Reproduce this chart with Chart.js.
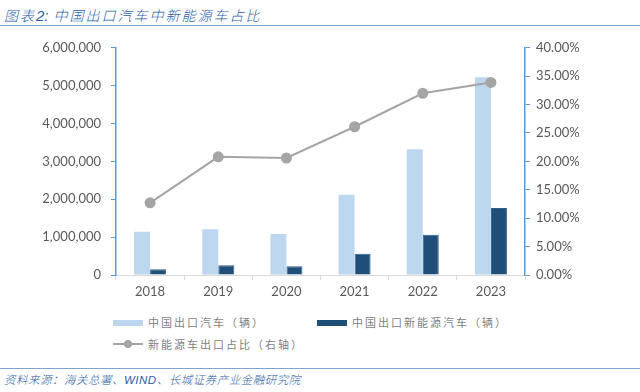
<!DOCTYPE html>
<html>
<head>
<meta charset="utf-8">
<script src="https://cdn.jsdelivr.net/npm/chart.js@4"></script>
<style>
  html, body { margin: 0; padding: 0; background: #fff; }
  body { width: 640px; height: 392px; position: relative; overflow: hidden;
         font-family: 'Noto Sans CJK SC', sans-serif; }
  .title { position: absolute; left: 4px; top: 5px; font-size: 14px; color: #2b5ea8;
           font-style: italic; letter-spacing: 2px; font-weight: 300; }
  .title b { font-family: 'Liberation Sans', sans-serif; letter-spacing: 0; font-size: 15px; }
  .rule-top { position: absolute; left: 0; top: 25px; width: 640px; height: 1px; background: #7ea4d6; }
  .rule-bot { position: absolute; left: 0; top: 368px; width: 640px; height: 1px; background: #7ea4d6; }
  .source { position: absolute; left: 4px; top: 371px; font-size: 11.5px; color: #2b5ea8;
            font-style: italic; letter-spacing: 0.5px; font-weight: 300; }
  .source b { font-family: 'Liberation Sans', sans-serif; }
  #wrap { position: absolute; left: 0; top: 30px; width: 640px; height: 280px; }
  .legend { position: absolute; font-size: 11px; color: #7f7f7f; letter-spacing: 2px; }
  .swatch { position: absolute; width: 30px; height: 6px; }
</style>
</head>
<body>
<div class="title">图表<b>2:</b> 中国出口汽车中新能源车占比</div>
<div class="rule-top"></div>

<div id="wrap"><canvas id="chart"></canvas></div>

<div class="swatch" style="left:113px; top:320px; background:#bdd7ee;"></div>
<div class="legend" style="left:148px; top:314px;">中国出口汽车（辆）</div>
<div class="swatch" style="left:317px; top:320px; background:#1f4e79;"></div>
<div class="legend" style="left:352px; top:314px;">中国出口新能源汽车（辆）</div>
<svg style="position:absolute; left:113px; top:338px;" width="32" height="12">
  <line x1="0" y1="6" x2="30" y2="6" stroke="#a5a5a5" stroke-width="2"/>
  <circle cx="15" cy="6" r="4" fill="#a5a5a5"/>
</svg>
<div class="legend" style="left:148px; top:336px;">新能源车出口占比（右轴）</div>

<div class="rule-bot"></div>
<div class="source">资料来源：海关总署、<b>WIND</b>、长城证券产业金融研究院</div>

<script>
const years = ['2018', '2019', '2020', '2021', '2022', '2023'];
const carExports = [1140000, 1210000, 1080000, 2120000, 3320000, 5220000];
const nevExports = [150000, 260000, 230000, 560000, 1060000, 1770000];
const nevShare = [12.7, 20.8, 20.6, 26.1, 32.0, 33.9];

const tickFont = { family: "'Lato', 'Liberation Sans', sans-serif", size: 13 };
const tickColor = '#595959';
const axisBlue = '#5b9bd5';

new Chart(document.getElementById('chart'), {
    type: 'bar',
    data: {
        labels: years,
        datasets: [
            {
                type: 'line',
                label: '新能源车出口占比（右轴）',
                data: nevShare,
                yAxisID: 'y1',
                borderColor: '#a5a5a5',
                backgroundColor: '#a5a5a5',
                borderWidth: 2,
                pointRadius: 4.5,
                pointBackgroundColor: '#a5a5a5',
                pointBorderColor: '#a5a5a5',
                tension: 0,
                order: 0
            },
            {
                label: '中国出口汽车（辆）',
                data: carExports,
                yAxisID: 'y',
                backgroundColor: '#bdd7ee',
                categoryPercentage: 0.47,
                barPercentage: 1.0,
                order: 1
            },
            {
                label: '中国出口新能源汽车（辆）',
                data: nevExports,
                yAxisID: 'y',
                backgroundColor: '#1f4e79',
                borderColor: '#2e5d8a',
                borderWidth: 1,
                categoryPercentage: 0.47,
                barPercentage: 1.0,
                order: 1
            }
        ]
    },
    options: {
        responsive: true,
        maintainAspectRatio: false,
        animation: false,
        layout: { padding: { top: 17, left: 0, right: 0, bottom: 0 } },
        plugins: {
            legend: { display: false },
            tooltip: { enabled: false }
        },
        scales: {
            x: {
                grid: { drawOnChartArea: false, drawTicks: true, tickLength: 5, color: '#d9d9d9', offset: true },
                border: { color: '#d9d9d9', width: 1 },
                ticks: { font: tickFont, color: tickColor, padding: 4 },
                afterFit: function(scale) { scale.height = 35; }
            },
            y: {
                position: 'left',
                min: 0,
                max: 6000000,
                ticks: {
                    stepSize: 1000000,
                    font: tickFont,
                    color: tickColor,
                    padding: 10,
                    callback: function(v) { return v.toLocaleString('en-US'); }
                },
                grid: { drawOnChartArea: false, drawTicks: true, tickLength: 5, color: axisBlue },
                border: { color: axisBlue, width: 1.5 },
                afterFit: function(scale) { scale.width = 116; }
            },
            y1: {
                position: 'right',
                min: 0,
                max: 40,
                ticks: {
                    stepSize: 5,
                    font: tickFont,
                    color: tickColor,
                    padding: 6,
                    callback: function(v) { return v.toFixed(2) + '%'; }
                },
                grid: { drawOnChartArea: false, drawTicks: true, tickLength: 5, color: axisBlue },
                border: { color: axisBlue, width: 1.5 },
                afterFit: function(scale) { scale.width = 115; }
            }
        }
    }
});
</script>
</body>
</html>
